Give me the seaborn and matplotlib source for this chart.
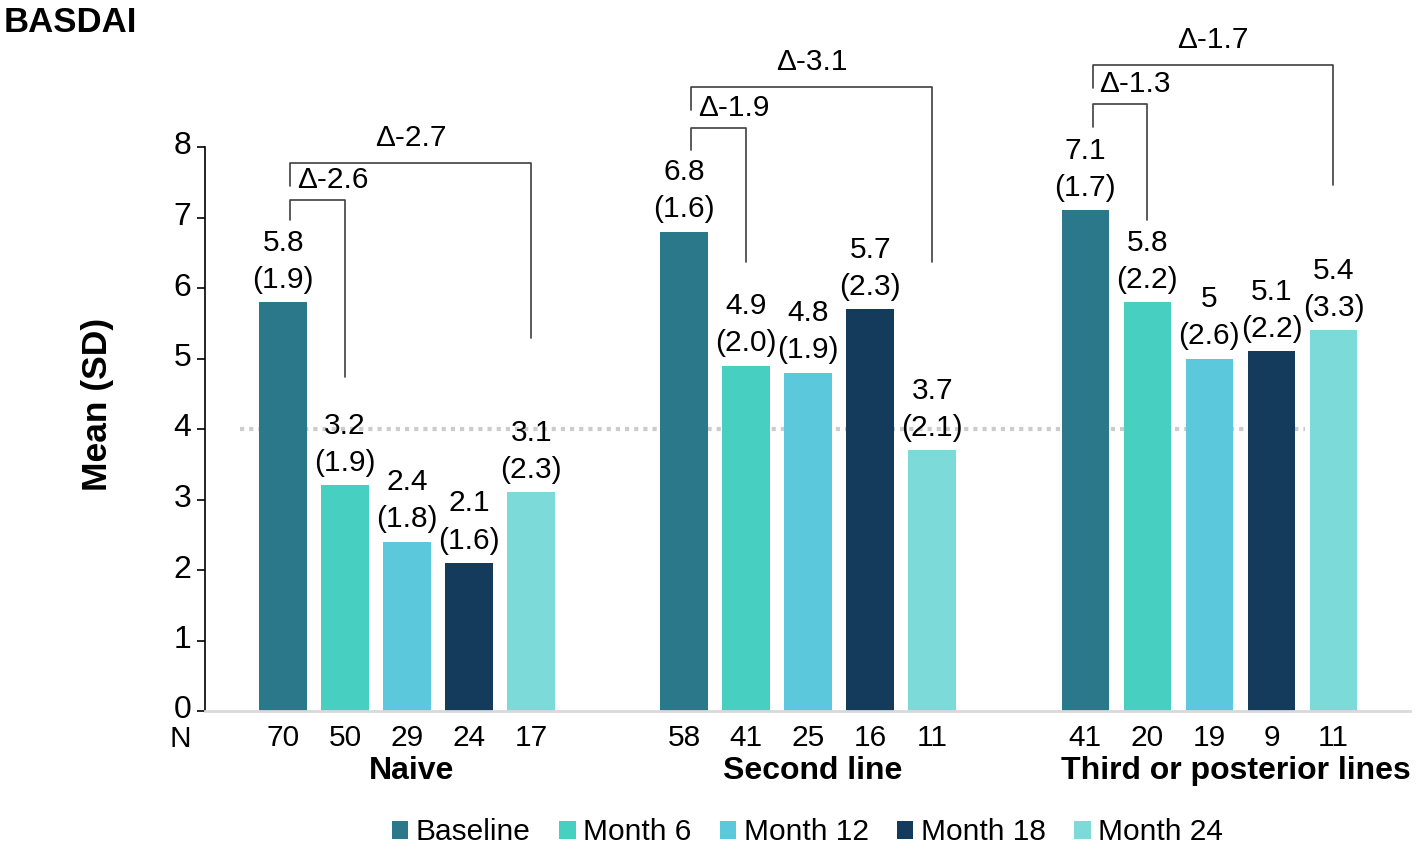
import pandas as pd
import matplotlib.pyplot as plt
import matplotlib.transforms as mtransforms
import seaborn as sns

# ---- data ----
groups = ["Naive", "Second line", "Third or posterior lines"]
timepoints = ["Baseline", "Month 6", "Month 12", "Month 18", "Month 24"]

naive_mean = [5.8, 3.2, 2.4, 2.1, 3.1]
naive_sd = [1.9, 1.9, 1.8, 1.6, 2.3]
naive_n = [70, 50, 29, 24, 17]

second_mean = [6.8, 4.9, 4.8, 5.7, 3.7]
second_sd = [1.6, 2.0, 1.9, 2.3, 2.1]
second_n = [58, 41, 25, 16, 11]

third_mean = [7.1, 5.8, 5.0, 5.1, 5.4]
third_sd = [1.7, 2.2, 2.6, 2.2, 3.3]
third_n = [41, 20, 19, 9, 11]

# change from baseline to month 6 and to month 24
delta_m6 = [-2.6, -1.9, -1.3]
delta_m24 = [-2.7, -3.1, -1.7]

colors = ["#2a7889", "#47cfc1", "#5bc8dc", "#143a5c", "#7cdad9"]

means = [naive_mean, second_mean, third_mean]
sds = [naive_sd, second_sd, third_sd]
ns = [naive_n, second_n, third_n]

rows = []
for g, name in enumerate(groups):
    for t, tp in enumerate(timepoints):
        rows.append({"group": name, "time": tp, "mean": means[g][t],
                     "sd": sds[g][t], "n": ns[g][t]})
df = pd.DataFrame(rows)

# bracket geometry (y in data units): short left bottom, short top, short right bottom,
# long left bottom, long top, long right bottom
brackets = [
    (6.96, 7.25, 4.74, 7.45, 7.77, 5.29),
    (7.96, 8.27, 6.37, 8.52, 8.85, 6.37),
    (8.28, 8.61, 6.96, 8.84, 9.16, 7.46),
]
# horizontal nudge of the group names (data units)
name_shift = [0.01, 0.01, 0.067]

sns.set_theme(style="white")
plt.rcParams["font.family"] = ["Liberation Sans", "DejaVu Sans"]
plt.rcParams["text.color"] = "black"

fs = 21.5

fig = plt.figure(figsize=(14.18, 8.49), dpi=100)
ax = fig.add_axes([205 / 1418, 1 - 711 / 849, 1205 / 1418, 564 / 849])

sns.barplot(data=df, x="group", y="mean", hue="time", order=groups,
            hue_order=timepoints, palette=colors, saturation=1, width=0.773,
            gap=0.23, linewidth=0, errorbar=None, ax=ax, zorder=2)

ax.set_xlim(-0.504, 2.5)
ax.set_ylim(0, 8)
ax.set_yticks(range(0, 9))
ax.tick_params(axis="y", labelsize=23, length=6, width=1.2, pad=4,
               color="black", labelcolor="black", left=True)
# tick labels sit a little above their ticks in the original
lift = mtransforms.ScaledTranslation(0, 4 / 100, fig.dpi_scale_trans)
for lab in ax.get_yticklabels():
    lab.set_transform(lab.get_transform() + lift)
for side in ["top", "right"]:
    ax.spines[side].set_visible(False)
ax.spines["left"].set_color("black")
ax.spines["left"].set_linewidth(1.2)
ax.spines["bottom"].set_color("#d9d9d9")
ax.spines["bottom"].set_linewidth(2)

# reference line at 4
ax.hlines(4, -0.416, 2.239, colors="#cccccc", linestyles=(0, (1, 1.2)),
          linewidth=3, zorder=1)

# bar centres per hue level
centres = []
for t, cont in enumerate(ax.containers[:len(timepoints)]):
    xs = [p.get_x() + p.get_width() / 2 for p in cont.patches]
    centres.append(xs)

# N labels as x ticks
tick_x, tick_lab = [], []
for g in range(len(groups)):
    for t in range(len(timepoints)):
        tick_x.append(centres[t][g])
        tick_lab.append(str(ns[g][t]))
ax.set_xticks(tick_x)
ax.set_xticklabels(tick_lab)
ax.tick_params(axis="x", labelsize=fs, length=0, pad=9, labelcolor="black")
ax.set_xlabel("")
ax.set_ylabel("")

trans = mtransforms.blended_transform_factory(ax.transData, ax.transAxes)
ax.text(-0.565, -0.05, "N", transform=trans, fontsize=fs, ha="center", va="center")
for g, name in enumerate(groups):
    ax.text(g + name_shift[g], -0.106, name, transform=trans, fontsize=23,
            fontweight="bold", ha="center", va="center")

# value labels
for g in range(len(groups)):
    for t in range(len(timepoints)):
        m, s = means[g][t], sds[g][t]
        ax.annotate(f"{m:g}\n({s:.1f})", (centres[t][g], m), xytext=(0, 6),
                    textcoords="offset points", ha="center", va="bottom",
                    fontsize=fs, linespacing=1.42)

# delta brackets
lc = "#404040"
for g in range(len(groups)):
    slb, stop, srb, llb, ltop, lrb = brackets[g]
    x0 = centres[0][g] + 0.018
    x6 = centres[1][g]
    x24 = centres[4][g]
    ax.plot([x0, x0, x6, x6], [slb, stop, stop, srb], color=lc, lw=1.2,
            clip_on=False, zorder=3)
    ax.plot([x0, x0, x24, x24], [llb, ltop, ltop, lrb], color=lc, lw=1.2,
            clip_on=False, zorder=3)
    ax.text(x0 + 0.017, stop + 0.28, f"\u0394{delta_m6[g]:.1f}", fontsize=fs,
            ha="left", va="center", clip_on=False)
    ax.text((x0 + x24) / 2, ltop + 0.36, f"\u0394{delta_m24[g]:.1f}", fontsize=fs,
            ha="center", va="center", clip_on=False)

sns.move_legend(ax, "center", bbox_to_anchor=(0.5, -0.215), ncol=5, frameon=False,
                title=None, fontsize=fs, handlelength=0.55, handleheight=0.55,
                handletextpad=0.25, columnspacing=0.95)

fig.text(97 / 1418, 1 - 404 / 849, "Mean (SD)", rotation=90, fontsize=25.5,
         fontweight="bold", ha="center", va="center")
fig.text(4 / 1418, 1 - 22 / 849, "BASDAI", fontsize=25, fontweight="bold",
         ha="left", va="center")

fig.savefig("out.png", dpi=100)
